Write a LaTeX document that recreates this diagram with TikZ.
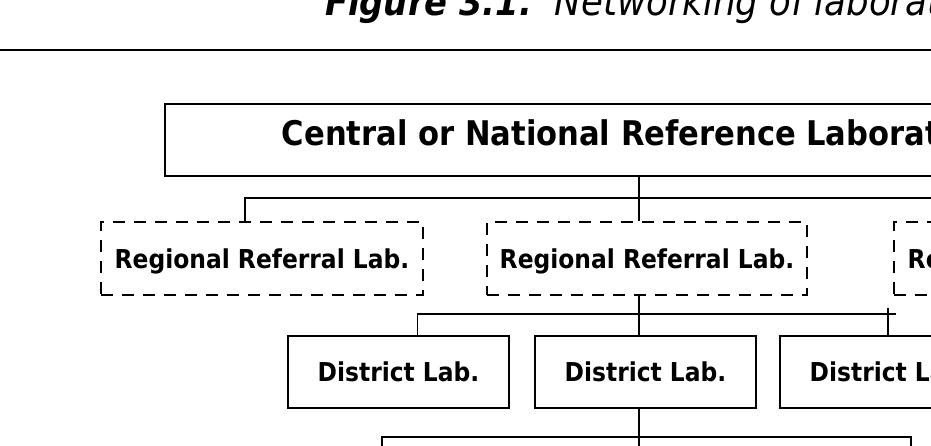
\documentclass[tikz,border=0pt]{standalone}
\usepackage{fontspec}
\setmainfont{DejaVu Sans Condensed}[
  BoldFont={DejaVu Sans Condensed Bold},
  ItalicFont={DejaVu Sans Condensed Oblique},
  BoldItalicFont={DejaVu Sans Condensed Bold Oblique}]
\begin{document}
\begin{tikzpicture}[x=1pt,y=-1pt,
  box/.style={draw=black,line width=1.9pt,rectangle,inner sep=0pt,
    font=\fontsize{26}{30}\selectfont\bfseries,text height=19pt,text depth=0pt},
  regbox/.style={box,dash pattern=on 12pt off 9pt,line width=2.3pt},
  centralbox/.style={box,font=\fontsize{34}{38}\selectfont\bfseries,text height=25pt,text depth=15pt},
  conn/.style={draw=black,line width=1.7pt}]
\useasboundingbox[fill=white] (0,0) rectangle (931,445);
% title and rule
\node[anchor=base west,inner sep=0pt,font=\itshape] (title) at (325,15)
  {{\fontsize{37.5}{40}\selectfont\bfseries Figure 3.1.}\hspace{23pt}{\fontsize{39.5}{42}\selectfont Networking of laboratories}};
\coordinate (ruleL) at (-5,50);
\coordinate (ruleR) at (940,50);
\draw[line width=2.5pt] (ruleL) -- (ruleR);
% central
\node[centralbox,minimum width=948pt,minimum height=72pt] (central) at (639,140)
  {Central or National Reference Laboratory};
% regional
\node[regbox,minimum width=322pt,minimum height=73pt] (reg1) at (262,258.5) {Regional Referral Lab.};
\node[regbox,minimum width=320pt,minimum height=73pt] (reg2) at (647,258.5) {Regional Referral Lab.};
\node[regbox,minimum width=322pt,minimum height=73pt] (reg3) at (1055,258.5) {Regional Referral Lab.};
% district
\node[box,minimum width=221pt,minimum height=72pt] (d1) at (398.5,372) {District Lab.};
\node[box,minimum width=221pt,minimum height=72pt] (d2) at (645.5,372) {District Lab.};
\node[box,minimum width=221pt,minimum height=72pt] (d3) at (890.5,372) {District Lab.};
% connectors central -> regional
\coordinate (b1L) at (245,198);
\coordinate (b1R) at (1055,198);
\draw[conn] (central.south) -- (central.south |- reg2.north);
\draw[conn] (b1L |- reg1.north) -- (b1L) -- (b1R) -- (b1R |- reg3.north);
% regional -> district
\coordinate (b2L) at (417.5,314);
\coordinate (b2R) at (896,314);
\coordinate (b2T) at (888,308);
\draw[conn] (central.south |- reg2.south) -- (central.south |- d2.north);
\draw[conn] (b2L |- d1.north) -- (b2L) -- (b2R);
\draw[conn] (b2T) -- (b2T |- d3.north);
% district -> below
\coordinate (b3L) at (382,437);
\coordinate (b3R) at (911,437);
\coordinate (down) at (0,460);
\draw[conn] (central.south |- d2.south) -- (central.south |- down);
\draw[conn] (b3L |- down) -- (b3L) -- (b3R) -- (b3R |- down);
\end{tikzpicture}
\end{document}
